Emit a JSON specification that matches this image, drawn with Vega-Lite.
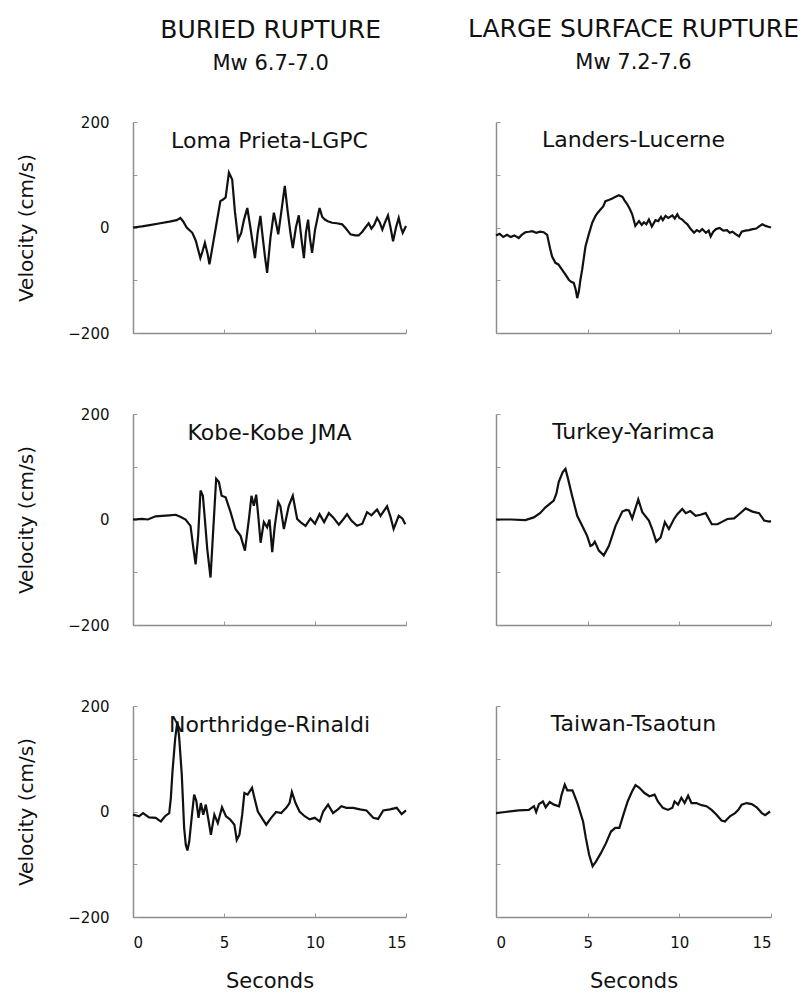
{
  "$schema": "https://vega.github.io/schema/vega-lite/v6.json",
  "padding": {"left": 16, "top": 16, "right": 5, "bottom": 5},
  "background": "white",
  "config": {
    "view": {"stroke": null},
    "font": "DejaVu Sans",
    "axis": {
      "grid": false,
      "domainColor": "#8c8c8c",
      "domainWidth": 1.5,
      "tickColor": "#9a9a9a",
      "tickWidth": 1,
      "tickSize": -4,
      "labelFont": "DejaVu Sans",
      "labelFontSize": 15,
      "labelColor": "#111",
      "titleFont": "DejaVu Sans",
      "titleFontWeight": "normal",
      "titleColor": "#111"
    },
    "title": {
      "font": "DejaVu Sans",
      "fontWeight": "normal",
      "color": "#111",
      "subtitleFont": "DejaVu Sans",
      "subtitleColor": "#111",
      "anchor": "middle"
    }
  },
  "datasets": {
    "loma": [
      {"t":0,"v":0},{"t":0.5,"v":2},{"t":1.0,"v":5},{"t":1.5,"v":8},{"t":2.0,"v":11},{"t":2.4,"v":14},{"t":2.6,"v":18},{"t":2.75,"v":12},{"t":2.95,"v":0},{"t":3.26,"v":-10},{"t":3.45,"v":-25},{"t":3.7,"v":-58},{"t":3.82,"v":-45},{"t":3.95,"v":-29},{"t":4.1,"v":-50},{"t":4.2,"v":-70},{"t":4.35,"v":-40},{"t":4.6,"v":10},{"t":4.8,"v":50},{"t":4.95,"v":53},{"t":5.09,"v":57},{"t":5.27,"v":104},{"t":5.45,"v":91},{"t":5.6,"v":30},{"t":5.78,"v":-23},{"t":5.95,"v":-10},{"t":6.1,"v":15},{"t":6.28,"v":37},{"t":6.45,"v":0},{"t":6.7,"v":-58},{"t":6.85,"v":-10},{"t":7.0,"v":22},{"t":7.1,"v":-10},{"t":7.25,"v":-55},{"t":7.37,"v":-86},{"t":7.55,"v":-20},{"t":7.74,"v":28},{"t":7.85,"v":10},{"t":7.98,"v":-13},{"t":8.15,"v":30},{"t":8.34,"v":79},{"t":8.5,"v":30},{"t":8.65,"v":-10},{"t":8.78,"v":-39},{"t":8.95,"v":0},{"t":9.11,"v":23},{"t":9.25,"v":-20},{"t":9.39,"v":-58},{"t":9.5,"v":-10},{"t":9.62,"v":15},{"t":9.72,"v":-20},{"t":9.84,"v":-48},{"t":10.0,"v":-5},{"t":10.25,"v":37},{"t":10.4,"v":20},{"t":10.54,"v":15},{"t":10.7,"v":12},{"t":10.94,"v":9},{"t":11.2,"v":8},{"t":11.49,"v":6},{"t":11.7,"v":-2},{"t":11.95,"v":-13},{"t":12.2,"v":-15},{"t":12.4,"v":-15},{"t":12.6,"v":-8},{"t":12.77,"v":0},{"t":12.95,"v":8},{"t":13.1,"v":-2},{"t":13.25,"v":5},{"t":13.41,"v":18},{"t":13.55,"v":10},{"t":13.7,"v":-4},{"t":13.85,"v":10},{"t":14.01,"v":23},{"t":14.15,"v":0},{"t":14.29,"v":-26},{"t":14.45,"v":0},{"t":14.6,"v":18},{"t":14.72,"v":0},{"t":14.82,"v":-10},{"t":15,"v":3}
    ],
    "kobe": [
      {"t":0,"v":0},{"t":0.5,"v":1},{"t":0.82,"v":0},{"t":1.24,"v":6},{"t":1.6,"v":7},{"t":2.0,"v":8},{"t":2.34,"v":9},{"t":2.6,"v":5},{"t":2.89,"v":0},{"t":3.16,"v":-12},{"t":3.3,"v":-50},{"t":3.44,"v":-85},{"t":3.58,"v":-31},{"t":3.71,"v":55},{"t":3.84,"v":45},{"t":3.95,"v":0},{"t":4.08,"v":-56},{"t":4.26,"v":-110},{"t":4.39,"v":-31},{"t":4.57,"v":77},{"t":4.72,"v":71},{"t":4.87,"v":45},{"t":5.09,"v":42},{"t":5.36,"v":14},{"t":5.63,"v":-18},{"t":5.91,"v":-31},{"t":6.15,"v":-59},{"t":6.37,"v":1},{"t":6.51,"v":45},{"t":6.64,"v":26},{"t":6.77,"v":47},{"t":6.9,"v":0},{"t":7.01,"v":-44},{"t":7.19,"v":-5},{"t":7.37,"v":-15},{"t":7.5,"v":0},{"t":7.65,"v":-62},{"t":7.79,"v":-12},{"t":7.98,"v":33},{"t":8.1,"v":25},{"t":8.29,"v":-18},{"t":8.56,"v":26},{"t":8.78,"v":45},{"t":9.02,"v":1},{"t":9.2,"v":-5},{"t":9.48,"v":-12},{"t":9.75,"v":2},{"t":10.0,"v":-8},{"t":10.25,"v":10},{"t":10.5,"v":-5},{"t":10.76,"v":12},{"t":11.0,"v":4},{"t":11.31,"v":-10},{"t":11.5,"v":-2},{"t":11.76,"v":10},{"t":12.0,"v":-2},{"t":12.31,"v":-12},{"t":12.6,"v":-8},{"t":12.86,"v":14},{"t":13.1,"v":8},{"t":13.41,"v":19},{"t":13.6,"v":7},{"t":13.96,"v":25},{"t":14.15,"v":5},{"t":14.32,"v":-18},{"t":14.6,"v":7},{"t":14.8,"v":2},{"t":14.96,"v":-9}
    ],
    "northridge": [
      {"t":0,"v":-6},{"t":0.33,"v":-9},{"t":0.55,"v":-3},{"t":0.88,"v":-11},{"t":1.25,"v":-12},{"t":1.53,"v":-19},{"t":1.76,"v":-9},{"t":1.99,"v":-3},{"t":2.08,"v":26},{"t":2.17,"v":76},{"t":2.32,"v":139},{"t":2.44,"v":171},{"t":2.54,"v":139},{"t":2.68,"v":70},{"t":2.81,"v":-31},{"t":2.9,"v":-63},{"t":2.99,"v":-74},{"t":3.09,"v":-57},{"t":3.24,"v":-6},{"t":3.36,"v":32},{"t":3.48,"v":20},{"t":3.6,"v":-12},{"t":3.73,"v":16},{"t":3.86,"v":-6},{"t":4.0,"v":13},{"t":4.14,"v":-15},{"t":4.28,"v":-44},{"t":4.47,"v":-6},{"t":4.66,"v":-22},{"t":4.89,"v":8},{"t":5.11,"v":-9},{"t":5.33,"v":-15},{"t":5.57,"v":-25},{"t":5.7,"v":-54},{"t":5.85,"v":-44},{"t":6.0,"v":-6},{"t":6.12,"v":35},{"t":6.3,"v":32},{"t":6.54,"v":45},{"t":6.67,"v":26},{"t":6.86,"v":0},{"t":7.13,"v":-15},{"t":7.32,"v":-25},{"t":7.59,"v":-12},{"t":7.86,"v":-1},{"t":8.14,"v":-3},{"t":8.42,"v":7},{"t":8.6,"v":16},{"t":8.73,"v":37},{"t":8.93,"v":16},{"t":9.15,"v":0},{"t":9.43,"v":-9},{"t":9.71,"v":-15},{"t":9.99,"v":-12},{"t":10.26,"v":-19},{"t":10.45,"v":0},{"t":10.72,"v":13},{"t":10.99,"v":-3},{"t":11.26,"v":4},{"t":11.45,"v":10},{"t":11.73,"v":7},{"t":12.1,"v":7},{"t":12.47,"v":4},{"t":12.83,"v":2},{"t":13.2,"v":-12},{"t":13.47,"v":-14},{"t":13.75,"v":2},{"t":14.12,"v":4},{"t":14.49,"v":7},{"t":14.76,"v":-5},{"t":15,"v":2}
    ],
    "landers": [
      {"t":0,"v":-15},{"t":0.2,"v":-12},{"t":0.4,"v":-18},{"t":0.6,"v":-14},{"t":0.8,"v":-18},{"t":1.0,"v":-15},{"t":1.24,"v":-20},{"t":1.4,"v":-14},{"t":1.6,"v":-9},{"t":1.8,"v":-8},{"t":1.97,"v":-7},{"t":2.2,"v":-10},{"t":2.4,"v":-8},{"t":2.6,"v":-9},{"t":2.79,"v":-14},{"t":2.95,"v":-40},{"t":3.06,"v":-55},{"t":3.24,"v":-67},{"t":3.4,"v":-70},{"t":3.6,"v":-80},{"t":3.8,"v":-90},{"t":3.97,"v":-99},{"t":4.1,"v":-103},{"t":4.24,"v":-105},{"t":4.35,"v":-118},{"t":4.43,"v":-134},{"t":4.52,"v":-121},{"t":4.6,"v":-100},{"t":4.7,"v":-80},{"t":4.88,"v":-36},{"t":5.06,"v":-13},{"t":5.25,"v":9},{"t":5.43,"v":22},{"t":5.55,"v":28},{"t":5.7,"v":34},{"t":5.85,"v":40},{"t":5.97,"v":50},{"t":6.15,"v":52},{"t":6.34,"v":55},{"t":6.5,"v":58},{"t":6.7,"v":61},{"t":6.9,"v":58},{"t":7.0,"v":52},{"t":7.16,"v":44},{"t":7.3,"v":35},{"t":7.43,"v":25},{"t":7.6,"v":3},{"t":7.8,"v":12},{"t":7.95,"v":5},{"t":8.07,"v":10},{"t":8.2,"v":6},{"t":8.34,"v":15},{"t":8.5,"v":2},{"t":8.7,"v":14},{"t":8.85,"v":12},{"t":9.0,"v":20},{"t":9.1,"v":14},{"t":9.25,"v":22},{"t":9.4,"v":18},{"t":9.62,"v":23},{"t":9.75,"v":17},{"t":9.89,"v":25},{"t":10.0,"v":18},{"t":10.16,"v":15},{"t":10.3,"v":10},{"t":10.44,"v":6},{"t":10.6,"v":-2},{"t":10.8,"v":-10},{"t":10.95,"v":-5},{"t":11.1,"v":-8},{"t":11.25,"v":-3},{"t":11.45,"v":-10},{"t":11.6,"v":-6},{"t":11.71,"v":-17},{"t":11.85,"v":-8},{"t":12.0,"v":-3},{"t":12.2,"v":-1},{"t":12.4,"v":-6},{"t":12.6,"v":-5},{"t":12.75,"v":-10},{"t":12.9,"v":-8},{"t":13.05,"v":-12},{"t":13.26,"v":-17},{"t":13.4,"v":-8},{"t":13.6,"v":-6},{"t":13.8,"v":-5},{"t":14.0,"v":-3},{"t":14.2,"v":-2},{"t":14.35,"v":2},{"t":14.53,"v":6},{"t":14.7,"v":3},{"t":14.9,"v":1},{"t":15,"v":0}
    ],
    "turkey": [
      {"t":0,"v":0},{"t":0.8,"v":0},{"t":1.6,"v":-1},{"t":2.06,"v":4},{"t":2.4,"v":12},{"t":2.7,"v":23},{"t":3.15,"v":36},{"t":3.3,"v":50},{"t":3.42,"v":71},{"t":3.64,"v":90},{"t":3.79,"v":96},{"t":3.93,"v":77},{"t":4.15,"v":45},{"t":4.43,"v":7},{"t":4.7,"v":-12},{"t":4.97,"v":-31},{"t":5.15,"v":-50},{"t":5.27,"v":-48},{"t":5.39,"v":-42},{"t":5.61,"v":-59},{"t":5.88,"v":-68},{"t":6.16,"v":-50},{"t":6.52,"v":-12},{"t":6.89,"v":15},{"t":7.1,"v":18},{"t":7.25,"v":17},{"t":7.43,"v":2},{"t":7.76,"v":38},{"t":7.98,"v":14},{"t":8.34,"v":-2},{"t":8.52,"v":-18},{"t":8.74,"v":-42},{"t":8.98,"v":-34},{"t":9.21,"v":-5},{"t":9.43,"v":-18},{"t":9.71,"v":1},{"t":9.89,"v":10},{"t":10.16,"v":20},{"t":10.35,"v":12},{"t":10.6,"v":16},{"t":10.89,"v":7},{"t":11.15,"v":9},{"t":11.44,"v":12},{"t":11.77,"v":-9},{"t":12.08,"v":-9},{"t":12.35,"v":-4},{"t":12.62,"v":1},{"t":12.99,"v":2},{"t":13.26,"v":10},{"t":13.62,"v":21},{"t":13.99,"v":15},{"t":14.35,"v":12},{"t":14.63,"v":-2},{"t":14.9,"v":-4},{"t":15,"v":-3}
    ],
    "taiwan": [
      {"t":0,"v":-3},{"t":0.5,"v":-1},{"t":1.24,"v":2},{"t":1.79,"v":3},{"t":2.07,"v":10},{"t":2.19,"v":-1},{"t":2.34,"v":14},{"t":2.56,"v":19},{"t":2.71,"v":8},{"t":2.93,"v":18},{"t":3.16,"v":13},{"t":3.44,"v":10},{"t":3.58,"v":32},{"t":3.75,"v":51},{"t":3.89,"v":40},{"t":4.17,"v":40},{"t":4.44,"v":16},{"t":4.75,"v":-19},{"t":4.9,"v":-50},{"t":5.08,"v":-82},{"t":5.27,"v":-104},{"t":5.45,"v":-95},{"t":5.72,"v":-79},{"t":6.0,"v":-60},{"t":6.27,"v":-38},{"t":6.51,"v":-31},{"t":6.73,"v":-31},{"t":6.95,"v":-6},{"t":7.18,"v":19},{"t":7.42,"v":38},{"t":7.61,"v":50},{"t":7.82,"v":45},{"t":8.1,"v":35},{"t":8.37,"v":29},{"t":8.65,"v":32},{"t":8.83,"v":19},{"t":9.1,"v":7},{"t":9.38,"v":3},{"t":9.62,"v":7},{"t":9.74,"v":19},{"t":9.93,"v":13},{"t":10.11,"v":26},{"t":10.29,"v":16},{"t":10.48,"v":30},{"t":10.66,"v":16},{"t":10.93,"v":16},{"t":11.21,"v":12},{"t":11.48,"v":10},{"t":11.76,"v":3},{"t":12.03,"v":-6},{"t":12.3,"v":-17},{"t":12.49,"v":-19},{"t":12.76,"v":-9},{"t":13.04,"v":-3},{"t":13.22,"v":3},{"t":13.4,"v":13},{"t":13.67,"v":16},{"t":13.95,"v":14},{"t":14.22,"v":8},{"t":14.5,"v":-3},{"t":14.68,"v":-7},{"t":14.95,"v":0}
    ]
  },
  "hconcat": [
    {
      "title": {"text": "BURIED RUPTURE", "subtitle": "Mw 6.7-7.0", "fontSize": 25, "subtitleFontSize": 21, "subtitlePadding": 10, "offset": 41, "dx": 57},
      "bounds": "flush",
      "spacing": 81,
      "vconcat": [
        {
          "data": {"name": "loma"},
          "title": {"text": "Loma Prieta-LGPC", "fontSize": 22, "offset": -38},
          "width": 273, "height": 211,
          "mark": {"type": "line", "color": "#111", "strokeWidth": 2.2},
          "encoding": {
            "x": {"field": "t", "type": "quantitative", "scale": {"domain": [0, 15], "nice": false}, "axis": {"values": [0, 5, 10, 15], "labels": false, "title": null}},
            "y": {"field": "v", "type": "quantitative", "scale": {"domain": [-200, 200], "nice": false}, "axis": {"values": [-200, -100, 0, 100, 200], "labelExpr": "datum.value % 200 === 0 ? datum.label : ''", "labelPadding": 28, "title": "Velocity (cm/s)", "titleFontSize": 20, "titlePadding": 31}}
          }
        },
        {
          "data": {"name": "kobe"},
          "title": {"text": "Kobe-Kobe JMA", "fontSize": 22, "offset": -38},
          "width": 273, "height": 211,
          "mark": {"type": "line", "color": "#111", "strokeWidth": 2.2},
          "encoding": {
            "x": {"field": "t", "type": "quantitative", "scale": {"domain": [0, 15], "nice": false}, "axis": {"values": [0, 5, 10, 15], "labels": false, "title": null}},
            "y": {"field": "v", "type": "quantitative", "scale": {"domain": [-200, 200], "nice": false}, "axis": {"values": [-200, -100, 0, 100, 200], "labelExpr": "datum.value % 200 === 0 ? datum.label : ''", "labelPadding": 28, "title": "Velocity (cm/s)", "titleFontSize": 20, "titlePadding": 31}}
          }
        },
        {
          "data": {"name": "northridge"},
          "title": {"text": "Northridge-Rinaldi", "fontSize": 22, "offset": -38},
          "width": 273, "height": 211,
          "mark": {"type": "line", "color": "#111", "strokeWidth": 2.2},
          "encoding": {
            "x": {"field": "t", "type": "quantitative", "scale": {"domain": [0, 15], "nice": false}, "axis": {"values": [0, 5, 10, 15], "labelPadding": 22, "title": "Seconds", "titleFontSize": 21, "titlePadding": 20}},
            "y": {"field": "v", "type": "quantitative", "scale": {"domain": [-200, 200], "nice": false}, "axis": {"values": [-200, -100, 0, 100, 200], "labelExpr": "datum.value % 200 === 0 ? datum.label : ''", "labelPadding": 28, "title": "Velocity (cm/s)", "titleFontSize": 20, "titlePadding": 31}}
          }
        }
      ]
    },
    {
      "title": {"text": "LARGE SURFACE RUPTURE", "subtitle": "Mw 7.2-7.6", "fontSize": 25, "subtitleFontSize": 21, "subtitlePadding": 10, "offset": 49},
      "bounds": "flush",
      "spacing": 81,
      "vconcat": [
        {
          "data": {"name": "landers"},
          "title": {"text": "Landers-Lucerne", "fontSize": 22, "offset": -30},
          "width": 275, "height": 211,
          "mark": {"type": "line", "color": "#111", "strokeWidth": 2.2},
          "encoding": {
            "x": {"field": "t", "type": "quantitative", "scale": {"domain": [0, 15], "nice": false}, "axis": {"values": [0, 5, 10, 15], "labels": false, "title": null}},
            "y": {"field": "v", "type": "quantitative", "scale": {"domain": [-200, 200], "nice": false}, "axis": {"values": [-200, -100, 0, 100, 200], "labels": false, "title": null}}
          }
        },
        {
          "data": {"name": "turkey"},
          "title": {"text": "Turkey-Yarimca", "fontSize": 22, "offset": -30},
          "width": 275, "height": 211,
          "mark": {"type": "line", "color": "#111", "strokeWidth": 2.2},
          "encoding": {
            "x": {"field": "t", "type": "quantitative", "scale": {"domain": [0, 15], "nice": false}, "axis": {"values": [0, 5, 10, 15], "labels": false, "title": null}},
            "y": {"field": "v", "type": "quantitative", "scale": {"domain": [-200, 200], "nice": false}, "axis": {"values": [-200, -100, 0, 100, 200], "labels": false, "title": null}}
          }
        },
        {
          "data": {"name": "taiwan"},
          "title": {"text": "Taiwan-Tsaotun", "fontSize": 22, "offset": -30},
          "width": 275, "height": 211,
          "mark": {"type": "line", "color": "#111", "strokeWidth": 2.2},
          "encoding": {
            "x": {"field": "t", "type": "quantitative", "scale": {"domain": [0, 15], "nice": false}, "axis": {"values": [0, 5, 10, 15], "labelPadding": 22, "title": "Seconds", "titleFontSize": 21, "titlePadding": 20}},
            "y": {"field": "v", "type": "quantitative", "scale": {"domain": [-200, 200], "nice": false}, "axis": {"values": [-200, -100, 0, 100, 200], "labels": false, "title": null}}
          }
        }
      ]
    }
  ],
  "spacing": 56
}
